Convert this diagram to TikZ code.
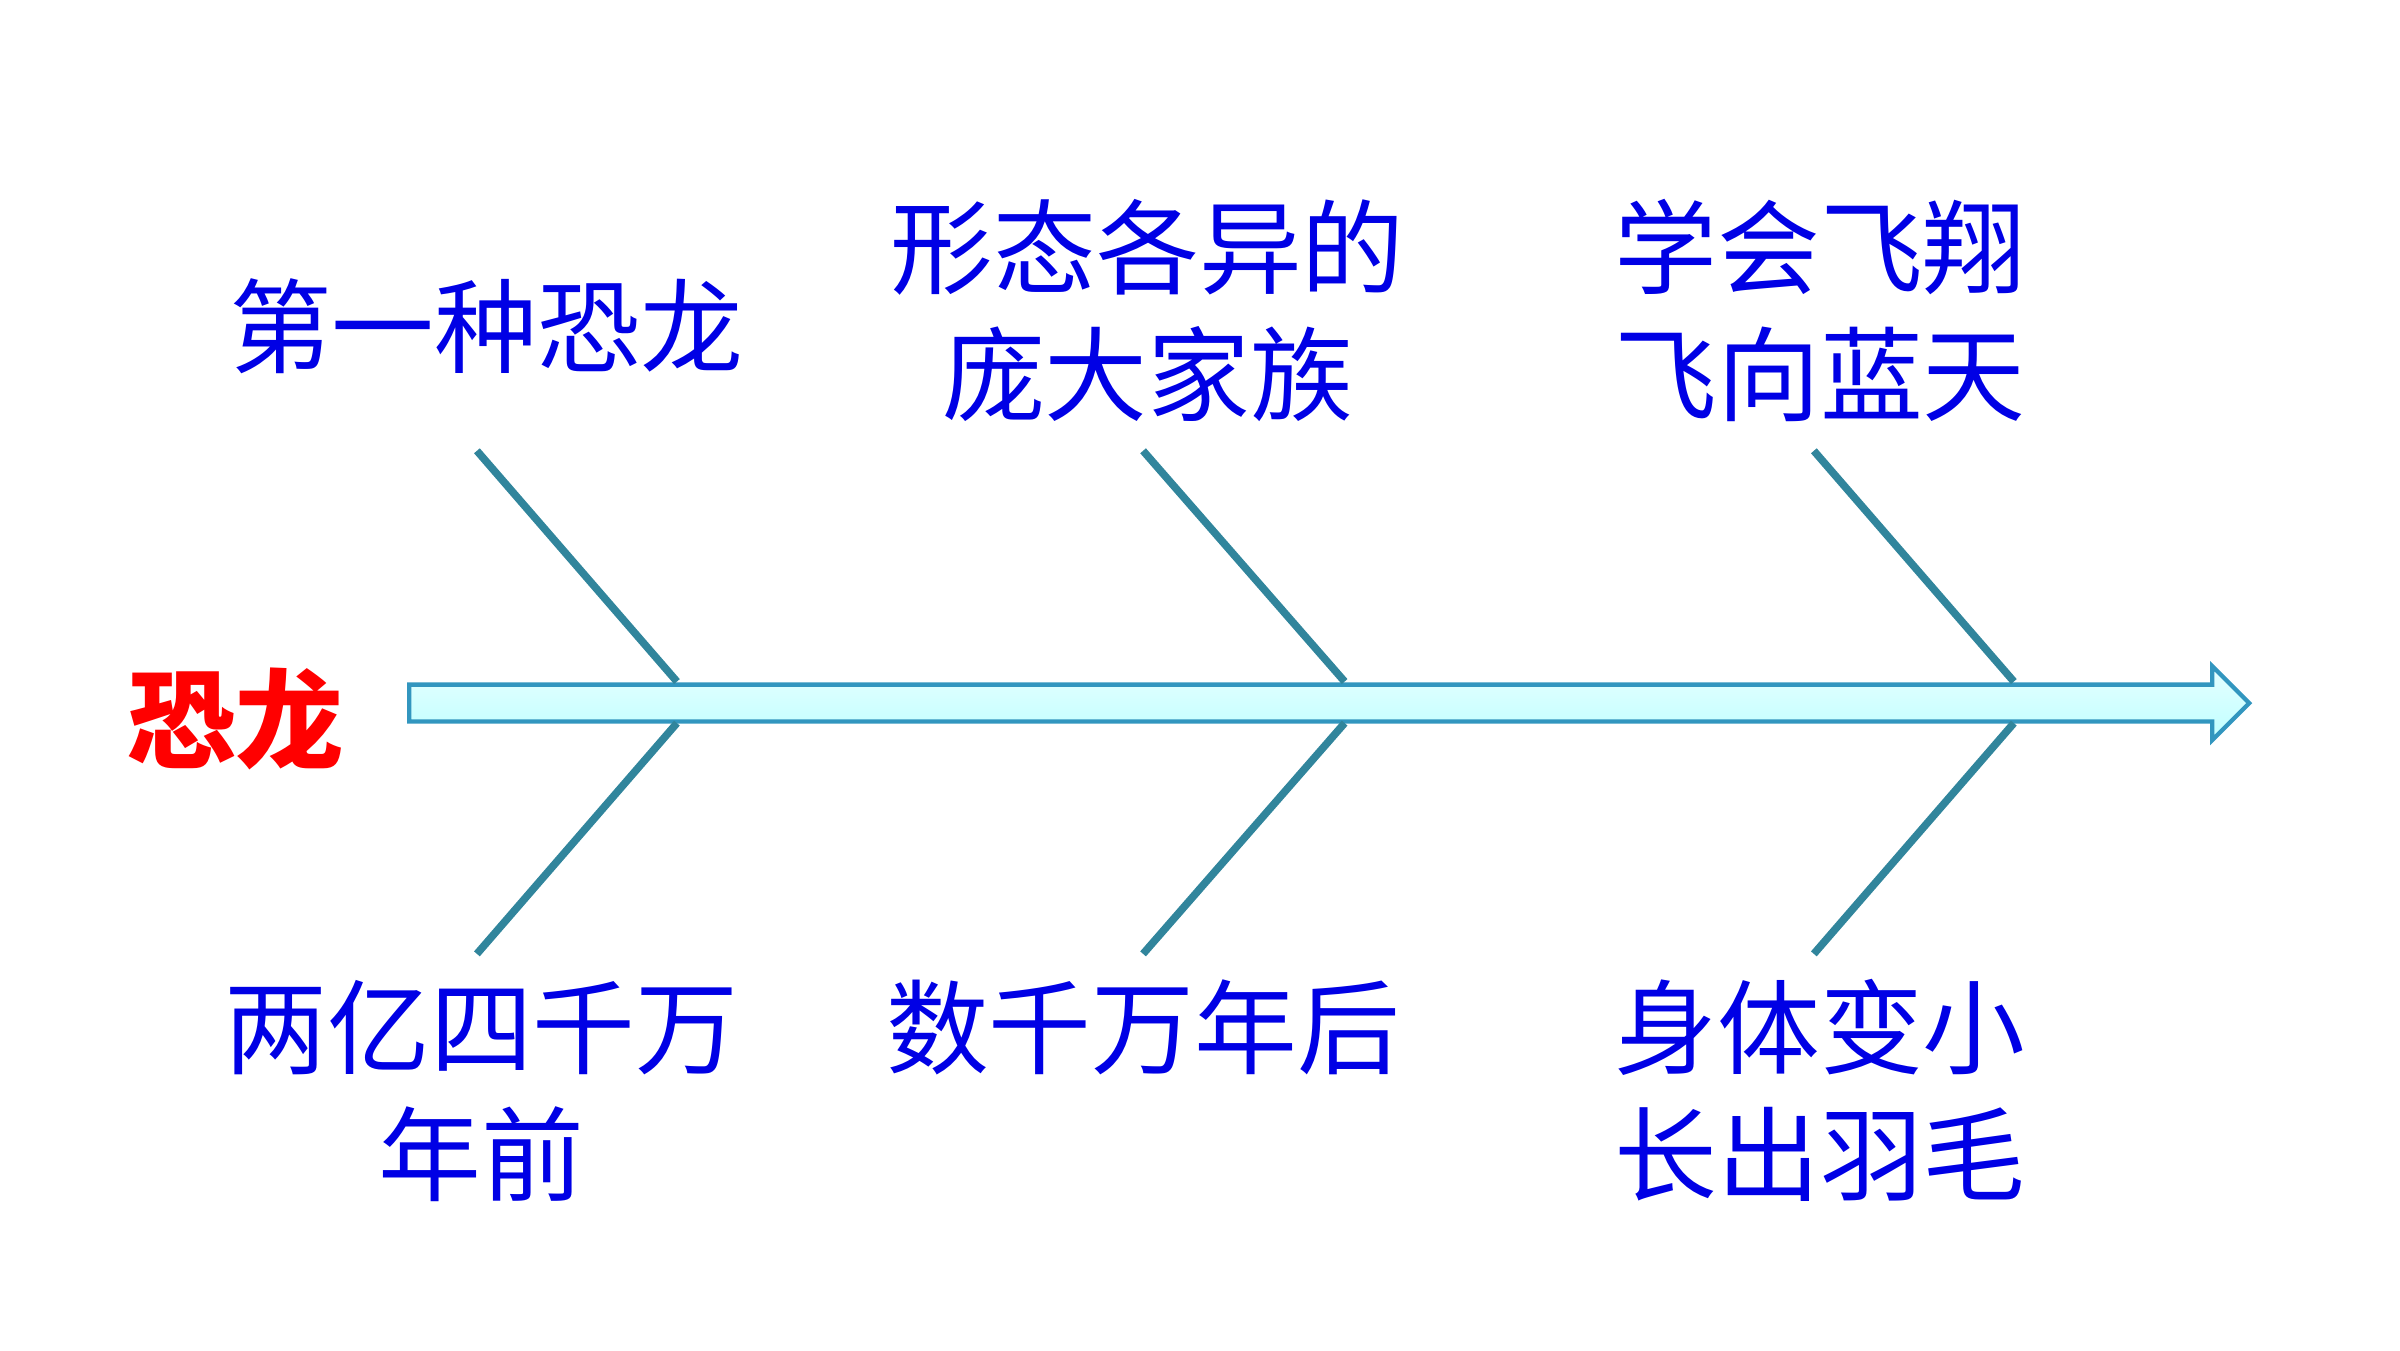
\documentclass[tikz,border=0pt]{standalone}
\usepackage{fontspec}
\newfontfamily\cjk{Noto Sans CJK SC}
\definecolor{bonec}{HTML}{31859C}
\begin{document}
\begin{tikzpicture}[x=0.01cm,y=-0.01cm,
  bone/.style={draw=bonec,line width=1.4pt},
  lbl/.style={text=blue!90!black,font=\cjk\fontsize{19}{23.5}\selectfont,align=center}]
\useasboundingbox (0,0) rectangle (1560,877.5);
\shade[top color=cyan!10,bottom color=cyan!25,draw=cyan!50!teal,line width=0.8pt]
 (266,445) -- (1438,445) -- (1438,433) -- (1462,457) -- (1438,481) -- (1438,469) -- (266,469) -- cycle;
\coordinate (t1) at (310,293); \coordinate (s1t) at (440,443);
\coordinate (t2) at (743,293); \coordinate (s2t) at (874,443);
\coordinate (t3) at (1179,293); \coordinate (s3t) at (1309,443);
\coordinate (b1) at (310,620); \coordinate (s1b) at (440,470);
\coordinate (b2) at (743,620); \coordinate (s2b) at (874,470);
\coordinate (b3) at (1179,620); \coordinate (s3b) at (1309,470);
\foreach \i in {1,2,3}{\draw[bone] (t\i) -- (s\i t); \draw[bone] (b\i) -- (s\i b);}
\node[text=red,font=\cjk\bfseries\fontsize{20}{24}\selectfont] (main) at (153,467) {恐龙};
\node[lbl] (a1) at (316,212) {第一种恐龙};
\node[lbl] (a2) at (746,202) {形态各异的\\庞大家族};
\node[lbl] (a3) at (1183,202) {学会飞翔\\飞向蓝天};
\node[lbl] (c1) at (313,709) {两亿四千万\\年前};
\node[lbl] (c2) at (743,668) {数千万年后};
\node[lbl] (c3) at (1183,709) {身体变小\\长出羽毛};
\end{tikzpicture}
\end{document}
